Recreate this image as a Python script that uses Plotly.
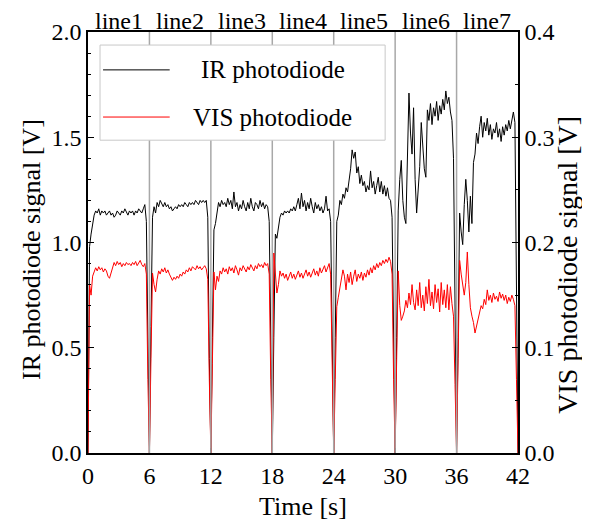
import plotly.graph_objects as go

# ---------------- data ----------------
segment_labels = ["line1", "line2", "line3", "line4", "line5", "line6", "line7"]
segment_length = 6.0          # s per line
samples_per_segment = 40      # sampling step 0.15 s
x_ticks = [0, 6, 12, 18, 24, 30, 36, 42]

ir_line1 = [0.00, 0.98, 1.04, 1.08, 1.13, 1.15, 1.14, 1.16, 1.13, 1.15, 1.14, 1.15, 1.13, 1.14, 1.15, 1.13, 1.14, 1.12, 1.13, 1.15,
            1.14, 1.13, 1.15, 1.14, 1.16, 1.14, 1.13, 1.15, 1.14, 1.15, 1.13, 1.15, 1.14, 1.16, 1.15, 1.14, 1.16, 1.18, 1.10, 0.45]
ir_line2 = [0.00, 0.60, 1.12, 1.17, 1.14, 1.19, 1.17, 1.20, 1.18, 1.17, 1.19, 1.17, 1.18, 1.16, 1.17, 1.15, 1.16, 1.17, 1.16, 1.18,
            1.17, 1.18, 1.17, 1.19, 1.18, 1.17, 1.19, 1.18, 1.19, 1.18, 1.20, 1.19, 1.18, 1.20, 1.19, 1.20, 1.19, 1.20, 1.12, 0.45]
ir_line3 = [0.00, 0.55, 1.06, 1.09, 1.15, 1.19, 1.17, 1.20, 1.18, 1.19, 1.17, 1.21, 1.18, 1.20, 1.16, 1.24, 1.17, 1.19, 1.15, 1.18,
            1.16, 1.20, 1.17, 1.15, 1.19, 1.16, 1.21, 1.17, 1.15, 1.19, 1.18, 1.16, 1.20, 1.17, 1.19, 1.16, 1.18, 1.17, 1.10, 0.45]
ir_line4 = [0.00, 0.55, 1.04, 1.02, 1.08, 1.12, 1.14, 1.13, 1.15, 1.14, 1.15, 1.14, 1.16, 1.15, 1.17, 1.15, 1.18, 1.21, 1.16, 1.235,
            1.17, 1.20, 1.15, 1.19, 1.16, 1.21, 1.17, 1.14, 1.19, 1.16, 1.18, 1.15, 1.17, 1.14, 1.16, 1.22, 1.15, 1.16, 1.10, 0.45]
ir_line5 = [0.00, 0.55, 1.10, 1.13, 1.20, 1.18, 1.23, 1.21, 1.26, 1.24, 1.30, 1.35, 1.44, 1.40, 1.43, 1.33, 1.36, 1.28, 1.32, 1.27,
            1.29, 1.24, 1.27, 1.25, 1.34, 1.26, 1.29, 1.23, 1.27, 1.31, 1.24, 1.29, 1.23, 1.27, 1.22, 1.26, 1.21, 1.20, 1.12, 0.45]
ir_line6 = [0.00, 0.55, 1.15, 1.30, 1.39, 1.20, 1.12, 1.09, 1.45, 1.71, 1.52, 1.42, 1.64, 1.30, 1.14, 1.24, 1.36, 1.57, 1.48, 1.35,
            1.31, 1.63, 1.58, 1.66, 1.56, 1.64, 1.60, 1.67, 1.58, 1.65, 1.61, 1.68, 1.63, 1.72, 1.66, 1.69, 1.62, 1.58, 1.40, 0.55]
ir_line7 = [0.00, 0.55, 1.14, 1.05, 0.99, 1.18, 1.30, 1.20, 1.05, 1.22, 1.09, 1.38, 1.42, 1.52, 1.47, 1.55, 1.60, 1.50, 1.57, 1.53,
            1.59, 1.51, 1.56, 1.49, 1.54, 1.52, 1.57, 1.50, 1.54, 1.48, 1.55, 1.51, 1.56, 1.53, 1.58, 1.54, 1.59, 1.62, 1.57, 0.60]
ir_end = 0.00

vis_line1 = [0.000, 0.160, 0.150, 0.168, 0.172, 0.176, 0.173, 0.177, 0.174, 0.176, 0.172, 0.175, 0.173, 0.168, 0.166, 0.172, 0.178, 0.181, 0.178, 0.182,
             0.179, 0.181, 0.177, 0.180, 0.178, 0.181, 0.179, 0.180, 0.178, 0.181, 0.179, 0.182, 0.178, 0.180, 0.183, 0.179, 0.177, 0.180, 0.170, 0.070]
vis_line2 = [0.000, 0.090, 0.171, 0.160, 0.153, 0.165, 0.173, 0.170, 0.175, 0.172, 0.176, 0.171, 0.174, 0.170, 0.166, 0.164, 0.167, 0.165, 0.168, 0.166,
             0.170, 0.168, 0.172, 0.170, 0.174, 0.172, 0.176, 0.173, 0.177, 0.175, 0.174, 0.178, 0.175, 0.177, 0.174, 0.176, 0.178, 0.175, 0.165, 0.070]
vis_line3 = [0.000, 0.085, 0.172, 0.155, 0.168, 0.163, 0.173, 0.170, 0.176, 0.172, 0.175, 0.170, 0.177, 0.173, 0.176, 0.171, 0.178, 0.174, 0.169, 0.176,
             0.173, 0.178, 0.175, 0.172, 0.177, 0.174, 0.179, 0.176, 0.173, 0.178, 0.175, 0.180, 0.177, 0.179, 0.176, 0.181, 0.178, 0.180, 0.170, 0.070]
vis_line4 = [0.000, 0.190, 0.165, 0.152, 0.160, 0.173, 0.168, 0.171, 0.166, 0.170, 0.164, 0.168, 0.172, 0.166, 0.170, 0.165, 0.169, 0.173, 0.167, 0.171,
             0.166, 0.170, 0.174, 0.168, 0.172, 0.167, 0.171, 0.175, 0.169, 0.173, 0.168, 0.176, 0.171, 0.174, 0.178, 0.172, 0.177, 0.180, 0.170, 0.070]
vis_line5 = [0.000, 0.070, 0.139, 0.148, 0.158, 0.165, 0.174, 0.168, 0.155, 0.170, 0.162, 0.172, 0.160, 0.168, 0.174, 0.163, 0.170, 0.166, 0.172, 0.164,
             0.171, 0.167, 0.174, 0.169, 0.176, 0.171, 0.178, 0.174, 0.180, 0.176, 0.181, 0.178, 0.183, 0.180, 0.184, 0.181, 0.186, 0.182, 0.170, 0.070]
vis_line6 = [0.000, 0.090, 0.173, 0.140, 0.126, 0.130, 0.135, 0.145, 0.138, 0.152, 0.141, 0.160, 0.143, 0.136, 0.155, 0.140, 0.162, 0.138, 0.150, 0.135,
             0.158, 0.142, 0.165, 0.140, 0.153, 0.137, 0.160, 0.143, 0.156, 0.134, 0.162, 0.141, 0.155, 0.138, 0.160, 0.136, 0.158, 0.142, 0.130, 0.065]
vis_line7 = [0.000, 0.090, 0.183, 0.170, 0.158, 0.150, 0.162, 0.191, 0.160, 0.138, 0.130, 0.124, 0.114, 0.120, 0.128, 0.134, 0.140, 0.137, 0.146, 0.141,
             0.155, 0.145, 0.150, 0.143, 0.152, 0.146, 0.149, 0.144, 0.153, 0.147, 0.151, 0.145, 0.150, 0.142, 0.148, 0.144, 0.150, 0.146, 0.140, 0.070]
vis_end = 0.000

ir_segments = [ir_line1, ir_line2, ir_line3, ir_line4, ir_line5, ir_line6, ir_line7]
vis_segments = [vis_line1, vis_line2, vis_line3, vis_line4, vis_line5, vis_line6, vis_line7]

# sampling grid (time of each sample)
step = segment_length / samples_per_segment
time = []
ir = []
vis = []
for k in range(len(segment_labels)):
    for i in range(samples_per_segment):
        time.append(round(k * segment_length + i * step, 4))
    ir.extend(ir_segments[k])
    vis.extend(vis_segments[k])
time.append(len(segment_labels) * segment_length)
ir.append(ir_end)
vis.append(vis_end)

# ---------------- figure ----------------
FONT = "Liberation Serif, Times New Roman, serif"

fig = go.Figure()
fig.add_trace(go.Scatter(x=time, y=ir, mode="lines", name="IR photodiode",
                         line=dict(color="black", width=1), showlegend=False))
fig.add_trace(go.Scatter(x=time, y=vis, mode="lines", name="VIS photodiode",
                         line=dict(color="#ff0000", width=1), yaxis="y2", showlegend=False))

shapes = []
# boundaries between lines
for xb in x_ticks[1:-1]:
    shapes.append(dict(type="line", xref="x", yref="paper", x0=xb, x1=xb, y0=0, y1=1,
                       line=dict(color="#a8a8a8", width=1.5), layer="above"))
# legend box (manual)
shapes.append(dict(type="rect", xref="paper", yref="paper", x0=0.028, x1=0.691, y0=0.743, y1=0.969,
                   fillcolor="white", line=dict(color="#c8c8c8", width=1), layer="above"))
shapes.append(dict(type="line", xref="paper", yref="paper", x0=0.035, x1=0.19, y0=0.91, y1=0.91,
                   line=dict(color="black", width=1), layer="above"))
shapes.append(dict(type="line", xref="paper", yref="paper", x0=0.035, x1=0.19, y0=0.798, y1=0.798,
                   line=dict(color="#ff0000", width=1), layer="above"))

annotations = []
for k, lab in enumerate(segment_labels):
    annotations.append(dict(x=k * segment_length + segment_length / 2, y=1, xref="x", yref="paper",
                            text=lab, showarrow=False, yanchor="bottom", yshift=-3, borderpad=0,
                            font=dict(family=FONT, size=24, color="black")))
annotations.append(dict(x=0.43, y=0.91, xref="paper", yref="paper", text="IR photodiode",
                        showarrow=False, xanchor="center", yanchor="middle",
                        font=dict(family=FONT, size=25, color="black")))
annotations.append(dict(x=0.43, y=0.798, xref="paper", yref="paper", text="VIS photodiode",
                        showarrow=False, xanchor="center", yanchor="middle",
                        font=dict(family=FONT, size=25, color="black")))
# axis titles
annotations.append(dict(x=0.5, y=-0.127, xref="paper", yref="paper", text="Time [s]",
                        showarrow=False, xanchor="center", yanchor="middle",
                        font=dict(family=FONT, size=26, color="black")))
annotations.append(dict(x=-0.132, y=0.483, xref="paper", yref="paper", text="IR photodiode signal [V]",
                        showarrow=False, xanchor="center", yanchor="middle", textangle=-90,
                        font=dict(family=FONT, size=26, color="black")))
annotations.append(dict(x=1.116, y=0.447, xref="paper", yref="paper", text="VIS photodiode signal [V]",
                        showarrow=False, xanchor="center", yanchor="middle", textangle=-90,
                        font=dict(family=FONT, size=28, color="black")))

fig.update_layout(
    width=582, height=513,
    margin=dict(l=80, r=72, t=24, b=68),
    paper_bgcolor="white", plot_bgcolor="white",
    font=dict(family=FONT, size=24, color="black"),
    shapes=shapes, annotations=annotations,
    xaxis=dict(range=[0, 42], tickvals=x_ticks, ticks="inside", ticklen=5, tickcolor="black",
               showline=True, linecolor="black", linewidth=1.5, mirror=True, showgrid=False,
               zeroline=False, tickfont=dict(size=24)),
    yaxis=dict(range=[0, 2.0], dtick=0.5, tickformat=".1f", ticks="inside", ticklen=6,
               tickcolor="black", showline=True, linecolor="black", linewidth=1.5,
               showgrid=False, zeroline=False,
               minor=dict(dtick=0.1, ticks="inside", ticklen=3, tickcolor="black"),
               tickfont=dict(size=24)),
    yaxis2=dict(range=[0, 0.4], dtick=0.1, tickformat=".1f", ticks="inside", ticklen=6,
                tickcolor="black", showline=True, linecolor="black", linewidth=1.5,
                showgrid=False, zeroline=False, overlaying="y", side="right",
                minor=dict(dtick=0.05, ticks="inside", ticklen=3, tickcolor="black"),
                tickfont=dict(size=24)),
)

fig.write_html("out.html")
